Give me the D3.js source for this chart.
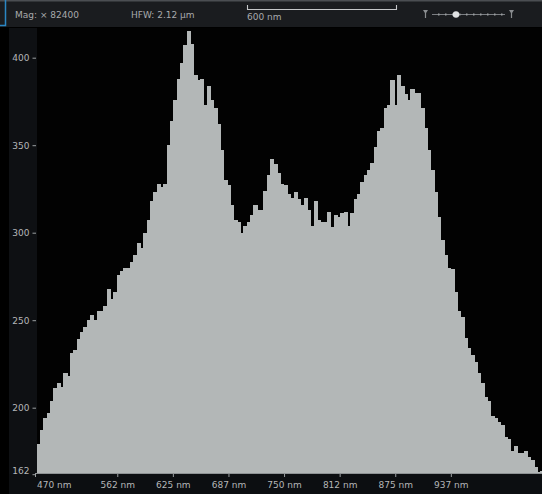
<!DOCTYPE html>
<html><head><meta charset="utf-8">
<script src="https://cdn.jsdelivr.net/npm/d3@7"></script>
<style>body{margin:0;background:#000;overflow:hidden} svg{display:block}</style>
</head><body>
<svg id="c" width="542" height="494"></svg>
<script>
// ---- data ----
const binStartNm = 471.875;
const binWidthNm = 3.75;
const counts = [
179,187,194,197,204,211,214,212,220,218,
231,233,239,243,246,250,253,250,255,255,
258,268,262,266,276,278,280,280,283,287,
294,291,300,307,318,323,328,326,328,350,
364,376,388,397,407,415,408,390,387,388,
373,384,376,371,362,347,330,327,316,307,
306,300,304,306,310,316,313,313,324,333,
342,339,334,328,327,322,320,323,319,316,
320,313,304,318,307,306,306,312,303,310,
309,311,312,304,311,319,322,329,333,336,
340,349,358,360,371,373,387,373,390,384,
379,376,382,380,380,371,360,347,336,323,
309,296,287,280,279,266,255,252,240,234,
230,226,220,214,206,204,195,194,192,190,
183,182,175,178,174,174,175,172,170,166,
163,164];
const xTickValues = [470, 562.5, 625, 687.5, 750, 812.5, 875, 937.5];
const xTickLabels = ["470 nm","562 nm","625 nm","687 nm","750 nm","812 nm","875 nm","937 nm"];
const yTickValues = [162, 200, 250, 300, 350, 400];
const yTickLabels = ["162","200","250","300","350","400"];
const headerLabels = ["Mag: × 82400", "HFW: 2.12 µm"];
const scaleBarLabel = "600 nm";

// ---- layout ----
const W = 542, H = 494;
const plotL = 37, plotT = 28, baseY = 474;
const svg = d3.select("#c");
const font = "DejaVu Sans, Verdana, sans-serif";

const x = d3.scaleLinear().domain([470, 1040]).range([35, 542]);
const y = d3.scaleLinear().domain([162, 400]).range([474.2, 57.7]);

// backgrounds
svg.append("rect").attr("width", W).attr("height", H).attr("fill", "#000");
svg.append("rect").attr("x", 9).attr("y", plotT).attr("width", plotL - 9).attr("height", baseY - plotT).attr("fill", "#0e1013");
svg.append("rect").attr("x", plotL).attr("y", plotT).attr("width", W - plotL).attr("height", baseY - plotT).attr("fill", "#020202");
svg.append("rect").attr("x", 9).attr("y", baseY).attr("width", W - 9).attr("height", H - baseY).attr("fill", "#0c0e11");

// clip for plot
svg.append("clipPath").attr("id", "pc").append("rect")
  .attr("x", plotL - 1).attr("y", plotT).attr("width", W - plotL + 1).attr("height", baseY - plotT);

const bins = counts.map((v, i) => ({x0: binStartNm + i * binWidthNm, x1: binStartNm + (i + 1) * binWidthNm, v}));
svg.append("g").attr("clip-path", "url(#pc)")
  .selectAll("rect").data(bins).join("rect")
  .attr("x", d => x(d.x0))
  .attr("width", d => x(d.x1) - x(d.x0) + 1)
  .attr("y", d => y(d.v))
  .attr("height", d => y(162) - y(d.v))
  .attr("shape-rendering", "crispEdges")
  .attr("fill", "#b3b7b7");

// baseline
svg.append("line").attr("x1", 35).attr("x2", W).attr("y1", baseY - 0.5).attr("y2", baseY - 0.5)
  .attr("stroke", "#8e9294").attr("stroke-width", 1.2);

// x axis
const xg = svg.append("g").attr("transform", `translate(0,${baseY})`);
const xAxis = d3.axisBottom(x).tickValues(xTickValues).tickSize(3).tickPadding(4)
  .tickFormat((d, i) => xTickLabels[i]);
xg.call(xAxis);
xg.select(".domain").remove();
xg.selectAll(".tick line").attr("stroke", "#9a9ea0");
xg.selectAll(".tick text").attr("fill", "#b4b6b8").attr("font-family", font).attr("font-size", 9)
  .attr("text-anchor", (d, i) => i === 0 ? "start" : "middle")
  .attr("dx", (d, i) => i === 0 ? 1.5 : 0)
  .attr("dy", "0.75em");

// y axis
const yg = svg.append("g").attr("transform", `translate(36,0)`);
const yAxis = d3.axisLeft(y).tickValues(yTickValues).tickSize(3.5).tickPadding(3)
  .tickFormat((d, i) => yTickLabels[i]);
yg.call(yAxis);
yg.select(".domain").remove();
yg.selectAll(".tick line").attr("stroke", "#9a9ea0");
yg.selectAll(".tick text").attr("fill", "#b4b6b8").attr("font-family", font).attr("font-size", 9)
  .attr("dy", (d, i) => i === 0 ? "-0.05em" : "0.32em");

// ---- header bar ----
svg.append("rect").attr("width", W).attr("height", plotT - 1).attr("fill", "#1a1c1f");
svg.append("rect").attr("width", W).attr("height", 1.5).attr("fill", "#4b4e52");
svg.append("path").attr("d", "M0,25.5H5.5V0").attr("fill", "none").attr("stroke", "#2b86c3").attr("stroke-width", 1.5);
svg.append("text").attr("x", 15).attr("y", 17.5).text(headerLabels[0])
  .attr("fill", "#a8aaad").attr("font-family", font).attr("font-size", 9);
svg.append("text").attr("x", 131).attr("y", 17.5).text(headerLabels[1])
  .attr("fill", "#a8aaad").attr("font-family", font).attr("font-size", 9);
svg.append("path").attr("d", "M247.5,5V9.5H396.5V5").attr("fill", "none").attr("stroke", "#c4c6c8").attr("stroke-width", 1.1);
svg.append("text").attr("x", 247).attr("y", 20).text(scaleBarLabel)
  .attr("fill", "#a8aaad").attr("font-family", font).attr("font-size", 9);

// slider
function funnel(cx) {
  svg.append("path").attr("d", `M${cx-2.5},10H${cx+2.5}L${cx+0.6},13V18H${cx-0.6}V13Z`).attr("fill", "#8a8d90");
}
funnel(425.5); funnel(511.5);
svg.append("line").attr("x1", 432).attr("x2", 505).attr("y1", 14.5).attr("y2", 14.5).attr("stroke", "#7b7e82").attr("stroke-width", 1);
d3.range(438, 505, 7).forEach(t => svg.append("rect").attr("x", t).attr("y", 13.5).attr("width", 1.5).attr("height", 2).attr("fill", "#9a9da0"));
svg.append("circle").attr("cx", 456).attr("cy", 14.5).attr("r", 3.2).attr("fill", "#e0e2e4");
</script>
</body></html>
